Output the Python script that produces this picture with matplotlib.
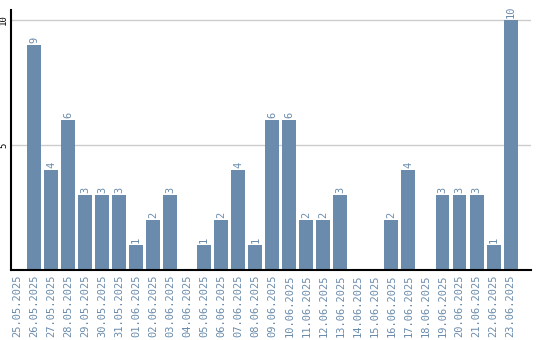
import numpy as np
import matplotlib
matplotlib.use("Agg")
import matplotlib.pyplot as plt

# Data
dates = ["25.05.2025", "26.05.2025", "27.05.2025", "28.05.2025", "29.05.2025",
         "30.05.2025", "31.05.2025", "01.06.2025", "02.06.2025", "03.06.2025",
         "04.06.2025", "05.06.2025", "06.06.2025", "07.06.2025", "08.06.2025",
         "09.06.2025", "10.06.2025", "11.06.2025", "12.06.2025", "13.06.2025",
         "14.06.2025", "15.06.2025", "16.06.2025", "17.06.2025", "18.06.2025",
         "19.06.2025", "20.06.2025", "21.06.2025", "22.06.2025", "23.06.2025"]
counts = [0, 9, 4, 6, 3, 3, 3, 1, 2, 3,
          0, 1, 2, 4, 1, 6, 6, 2, 2, 3,
          0, 0, 2, 4, 0, 3, 3, 3, 1, 10]
y_ticks = [5, 10]

bar_color = "#6a8bab"
font = "DejaVu Sans Mono"

fig = plt.figure(figsize=(5.4, 3.4), dpi=100)
ax = fig.add_axes([11 / 540, 70 / 340, (531 - 11) / 540, (270 - 10) / 340])

x = np.arange(len(dates))
ax.bar(x, counts, width=0.82, color=bar_color, zorder=2)

for xi, c in zip(x, counts):
    if c > 0:
        ax.text(xi, c + 0.08, str(c), rotation=90, ha="center", va="bottom",
                color=bar_color, fontsize=7.5, family=font)

ax.set_xlim(-0.35, 30.2)
ax.set_ylim(0, 10.4)

ax.set_xticks(x)
ax.set_xticklabels(dates, rotation=90, color=bar_color, fontsize=7.5, family=font)
ax.set_yticks(y_ticks)
ax.set_yticklabels([str(t) for t in y_ticks], rotation=90, va="center",
                   fontsize=6.5, family=font)
ax.tick_params(axis="both", length=0)
ax.tick_params(axis="x", pad=3)
ax.tick_params(axis="y", pad=2)

ax.yaxis.grid(True, color="#cccccc", linewidth=1, zorder=0)
ax.set_axisbelow(True)
for side in ["top", "right"]:
    ax.spines[side].set_visible(False)
for side in ["left", "bottom"]:
    ax.spines[side].set_linewidth(1.5)
    ax.spines[side].set_color("black")

fig.savefig("out.png", dpi=100)
